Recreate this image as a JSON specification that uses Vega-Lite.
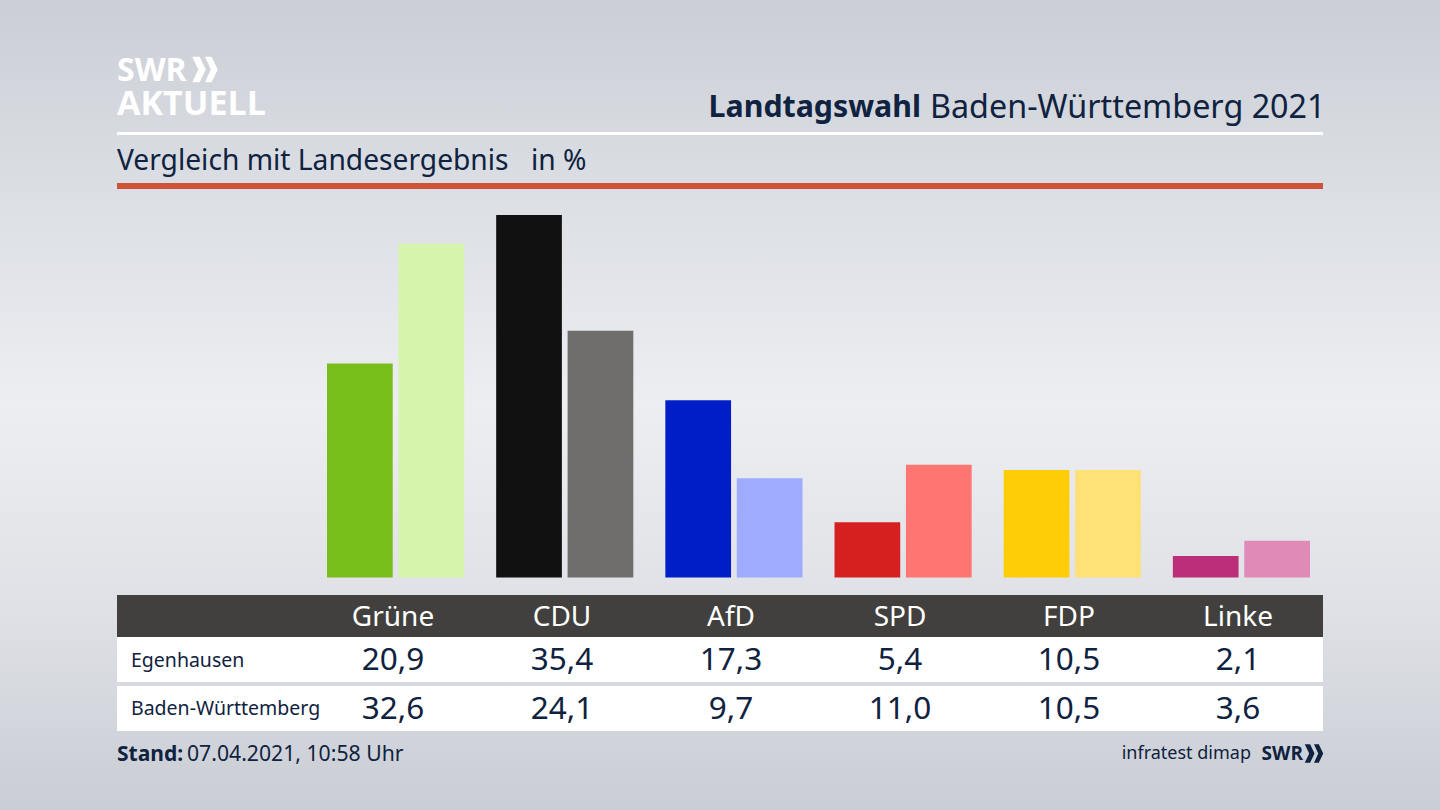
{
  "$schema": "https://vega.github.io/schema/vega-lite/v6.json",
  "autosize": {"type": "fit", "contains": "padding"},
  "width": 1440,
  "height": 810,
  "padding": 0,
  "background": "#d4d7dd",
  "view": {
    "stroke": null,
    "fill": {
      "gradient": "linear", "x1": 0, "y1": 0, "x2": 0, "y2": 1,
      "stops": [
        {"offset": 0, "color": "#cbced5"},
        {"offset": 0.25, "color": "#dcdfe4"},
        {"offset": 0.5, "color": "#eceef2"},
        {"offset": 0.75, "color": "#dfe1e6"},
        {"offset": 1, "color": "#c9cdd4"}
      ]
    }
  },
  "config": {
    "text": {"font": "Noto Sans", "color": "#0f2240", "dy": 2},
    "axis": {"disable": true}
  },
  "datasets": {
    "ergebnisse": [
      {"partei": "Grüne", "gebiet": "Egenhausen", "wert": 20.9, "text": "20,9", "farbe": "Grüne Egenhausen"},
      {"partei": "Grüne", "gebiet": "Baden-Württemberg", "wert": 32.6, "text": "32,6", "farbe": "Grüne Land"},
      {"partei": "CDU", "gebiet": "Egenhausen", "wert": 35.4, "text": "35,4", "farbe": "CDU Egenhausen"},
      {"partei": "CDU", "gebiet": "Baden-Württemberg", "wert": 24.1, "text": "24,1", "farbe": "CDU Land"},
      {"partei": "AfD", "gebiet": "Egenhausen", "wert": 17.3, "text": "17,3", "farbe": "AfD Egenhausen"},
      {"partei": "AfD", "gebiet": "Baden-Württemberg", "wert": 9.7, "text": "9,7", "farbe": "AfD Land"},
      {"partei": "SPD", "gebiet": "Egenhausen", "wert": 5.4, "text": "5,4", "farbe": "SPD Egenhausen"},
      {"partei": "SPD", "gebiet": "Baden-Württemberg", "wert": 11.0, "text": "11,0", "farbe": "SPD Land"},
      {"partei": "FDP", "gebiet": "Egenhausen", "wert": 10.5, "text": "10,5", "farbe": "FDP Egenhausen"},
      {"partei": "FDP", "gebiet": "Baden-Württemberg", "wert": 10.5, "text": "10,5", "farbe": "FDP Land"},
      {"partei": "Linke", "gebiet": "Egenhausen", "wert": 2.1, "text": "2,1", "farbe": "Linke Egenhausen"},
      {"partei": "Linke", "gebiet": "Baden-Württemberg", "wert": 3.6, "text": "3,6", "farbe": "Linke Land"}
    ],
    "parteien": [
      {"partei": "Grüne", "zeile": "kopf"},
      {"partei": "CDU", "zeile": "kopf"},
      {"partei": "AfD", "zeile": "kopf"},
      {"partei": "SPD", "zeile": "kopf"},
      {"partei": "FDP", "zeile": "kopf"},
      {"partei": "Linke", "zeile": "kopf"}
    ],
    "gebiete": [
      {"gebiet": "Egenhausen"}, {"gebiet": "Baden-Württemberg"}
    ]
  },
  "resolve": {"scale": {"x": "independent", "y": "independent", "color": "independent"}},
  "layer": [
    {
      "data": {"values": [{"zeile": "weiss"}]},
      "mark": {"type": "rect", "color": "#ffffff"},
      "encoding": {
        "x": {"datum": 0, "type": "quantitative", "scale": {"domain": [0, 1], "range": [117, 1323]}},
        "x2": {"datum": 1},
        "y": {"field": "zeile", "type": "nominal", "scale": {"type": "band", "domain": ["weiss"], "range": [132, 135], "padding": 0}}
      }
    },
    {
      "data": {"values": [{"zeile": "rot"}]},
      "mark": {"type": "rect", "color": "#cf5237"},
      "encoding": {
        "x": {"datum": 0, "type": "quantitative", "scale": {"domain": [0, 1], "range": [117, 1323]}},
        "x2": {"datum": 1},
        "y": {"field": "zeile", "type": "nominal", "scale": {"type": "band", "domain": ["rot"], "range": [183, 189], "padding": 0}}
      }
    },
    {
      "data": {"values": [{"text": "SWR", "zeile": "swr"}]},
      "mark": {"type": "text", "align": "left", "fontSize": 32, "fontWeight": "bold", "font": "Open Sans", "color": "#ffffff"},
      "encoding": {
        "x": {"datum": 0, "type": "quantitative", "scale": {"domain": [0, 1], "range": [117, 1323]}},
        "y": {"field": "zeile", "type": "nominal", "scale": {"type": "point", "padding": 0, "domain": ["swr", "aktuell"], "range": [69, 103]}},
        "text": {"field": "text"}
      }
    },
    {
      "data": {"values": [{"text": "AKTUELL", "zeile": "aktuell"}]},
      "mark": {"type": "text", "align": "left", "fontSize": 34, "fontWeight": "bold", "font": "Open Sans", "color": "#ffffff"},
      "encoding": {
        "x": {"datum": 0, "type": "quantitative", "scale": {"domain": [0, 1], "range": [117, 1323]}},
        "y": {"field": "zeile", "type": "nominal", "scale": {"type": "point", "padding": 0, "domain": ["swr", "aktuell"], "range": [69, 103]}},
        "text": {"field": "text"}
      }
    },
    {
      "data": {"values": [{"zeile": "swr"}]},
      "mark": {
        "type": "point", "filled": true, "opacity": 1, "color": "#ffffff", "size": 650,
        "shape": "M-1,-1L-0.42,-1L0.06,0L-0.42,1L-1,1L-0.52,0ZM0,-1L0.52,-1L1,0L0.52,1L0,1L0.46,0Z"
      },
      "encoding": {
        "x": {"datum": 0, "type": "quantitative", "scale": {"domain": [0, 1], "range": [205, 1323]}},
        "y": {"field": "zeile", "type": "nominal", "scale": {"type": "band", "domain": ["swr"], "range": [59, 80], "padding": 0}}
      }
    },
    {
      "data": {"values": [{"text": "Landtagswahl", "spalte": "fett", "zeile": "titel"}]},
      "mark": {"type": "text", "align": "right", "fontSize": 30.3, "fontWeight": "bold"},
      "encoding": {
        "x": {"field": "spalte", "type": "nominal", "scale": {"type": "point", "padding": 0, "domain": ["fett", "normal"], "range": [921, 930]}},
        "y": {"field": "zeile", "type": "nominal", "scale": {"type": "band", "domain": ["titel"], "range": [96, 116], "padding": 0}},
        "text": {"field": "text"}
      }
    },
    {
      "data": {"values": [{"text": "Baden-Württemberg 2021", "spalte": "normal", "zeile": "titel"}]},
      "mark": {"type": "text", "align": "left", "fontSize": 32.3},
      "encoding": {
        "x": {"field": "spalte", "type": "nominal", "scale": {"type": "point", "padding": 0, "domain": ["fett", "normal"], "range": [921, 930]}},
        "y": {"field": "zeile", "type": "nominal", "scale": {"type": "band", "domain": ["titel"], "range": [96, 116], "padding": 0}},
        "text": {"field": "text"}
      }
    },
    {
      "data": {"values": [
        {"text": "Vergleich mit Landesergebnis", "spalte": "thema", "zeile": "unter"},
        {"text": "in %", "spalte": "einheit", "zeile": "unter"}
      ]},
      "mark": {"type": "text", "align": "left", "fontSize": 28.2},
      "encoding": {
        "x": {"field": "spalte", "type": "nominal", "scale": {"type": "point", "padding": 0, "domain": ["thema", "einheit"], "range": [117, 531]}},
        "y": {"field": "zeile", "type": "nominal", "scale": {"type": "band", "domain": ["unter"], "range": [150, 170], "padding": 0}},
        "text": {"field": "text"}
      }
    },
    {
      "data": {"name": "ergebnisse"},
      "mark": {"type": "bar", "cornerRadius": 0},
      "encoding": {
        "x": {"field": "partei", "type": "nominal", "sort": null, "scale": {"type": "band", "domain": ["Grüne", "CDU", "AfD", "SPD", "FDP", "Linke"], "range": [327, 1310], "paddingInner": 0.1893, "paddingOuter": 0}},
        "xOffset": {"field": "gebiet", "type": "nominal", "sort": null, "scale": {"domain": ["Egenhausen", "Baden-Württemberg"], "paddingInner": 0.08, "paddingOuter": 0}},
        "y": {"field": "wert", "type": "quantitative", "scale": {"domain": [0, 35.4], "range": [577.5, 215], "nice": false}},
        "color": {
          "field": "farbe", "type": "nominal", "legend": null,
          "scale": {
            "domain": ["Grüne Egenhausen", "Grüne Land", "CDU Egenhausen", "CDU Land", "AfD Egenhausen", "AfD Land", "SPD Egenhausen", "SPD Land", "FDP Egenhausen", "FDP Land", "Linke Egenhausen", "Linke Land"],
            "range": ["#78be1a", "#d6f5aa", "#111111", "#6f6e6c", "#001ec8", "#9dacff", "#d61f1f", "#ff7571", "#ffcc08", "#ffe176", "#bc2e78", "#df8ab7"]
          }
        }
      }
    },
    {
      "data": {"values": [{"zeile": "kopf"}]},
      "mark": {"type": "rect", "color": "#41403e"},
      "encoding": {
        "x": {"datum": 0, "type": "quantitative", "scale": {"domain": [0, 1], "range": [117, 1323]}},
        "x2": {"datum": 1},
        "y": {"field": "zeile", "type": "nominal", "scale": {"type": "band", "domain": ["kopf"], "range": [595, 637], "padding": 0}}
      }
    },
    {
      "data": {"name": "gebiete"},
      "mark": {"type": "rect", "color": "#ffffff"},
      "encoding": {
        "x": {"datum": 0, "type": "quantitative", "scale": {"domain": [0, 1], "range": [117, 1323]}},
        "x2": {"datum": 1},
        "y": {"field": "gebiet", "type": "nominal", "scale": {"type": "band", "domain": ["Egenhausen", "Baden-Württemberg"], "range": [637, 731], "paddingInner": 0.0816, "paddingOuter": 0}}
      }
    },
    {
      "data": {"name": "parteien"},
      "mark": {"type": "text", "fontSize": 28, "color": "#ffffff"},
      "encoding": {
        "x": {"field": "partei", "type": "nominal", "scale": {"type": "band", "domain": ["Grüne", "CDU", "AfD", "SPD", "FDP", "Linke"], "range": [308.5, 1322.5], "padding": 0}},
        "y": {"field": "zeile", "type": "nominal", "scale": {"type": "band", "domain": ["kopf"], "range": [595, 637], "padding": 0}},
        "text": {"field": "partei"}
      }
    },
    {
      "data": {"name": "gebiete"},
      "mark": {"type": "text", "align": "left", "fontSize": 19.5, "dy": 1},
      "encoding": {
        "x": {"datum": 0, "type": "quantitative", "scale": {"domain": [0, 1], "range": [131, 1323]}},
        "y": {"field": "gebiet", "type": "nominal", "scale": {"type": "band", "domain": ["Egenhausen", "Baden-Württemberg"], "range": [637, 731], "paddingInner": 0.0816, "paddingOuter": 0}},
        "text": {"field": "gebiet"}
      }
    },
    {
      "data": {"name": "ergebnisse"},
      "mark": {"type": "text", "fontSize": 31.5, "dy": 1.5},
      "encoding": {
        "x": {"field": "partei", "type": "nominal", "scale": {"type": "band", "domain": ["Grüne", "CDU", "AfD", "SPD", "FDP", "Linke"], "range": [308.5, 1322.5], "padding": 0}},
        "y": {"field": "gebiet", "type": "nominal", "scale": {"type": "band", "domain": ["Egenhausen", "Baden-Württemberg"], "range": [637, 731], "paddingInner": 0.0816, "paddingOuter": 0}},
        "text": {"field": "text"}
      }
    },
    {
      "data": {"values": [{"text": "Stand:", "spalte": "stand", "zeile": "fuss"}]},
      "mark": {"type": "text", "align": "left", "fontSize": 21, "fontWeight": "bold"},
      "encoding": {
        "x": {"field": "spalte", "type": "nominal", "scale": {"type": "point", "padding": 0, "domain": ["stand", "zeit"], "range": [117, 187]}},
        "y": {"field": "zeile", "type": "nominal", "scale": {"type": "band", "domain": ["fuss"], "range": [743, 763], "padding": 0}},
        "text": {"field": "text"}
      }
    },
    {
      "data": {"values": [{"text": "07.04.2021, 10:58 Uhr", "spalte": "zeit", "zeile": "fuss"}]},
      "mark": {"type": "text", "align": "left", "fontSize": 21.2},
      "encoding": {
        "x": {"field": "spalte", "type": "nominal", "scale": {"type": "point", "padding": 0, "domain": ["stand", "zeit"], "range": [117, 187]}},
        "y": {"field": "zeile", "type": "nominal", "scale": {"type": "band", "domain": ["fuss"], "range": [743, 763], "padding": 0}},
        "text": {"field": "text"}
      }
    },
    {
      "data": {"values": [{"text": "infratest dimap", "spalte": "institut", "zeile": "fuss"}]},
      "mark": {"type": "text", "align": "right", "fontSize": 18},
      "encoding": {
        "x": {"field": "spalte", "type": "nominal", "scale": {"type": "point", "padding": 0, "domain": ["institut", "sender"], "range": [1251, 1303]}},
        "y": {"field": "zeile", "type": "nominal", "scale": {"type": "band", "domain": ["fuss"], "range": [742, 762], "padding": 0}},
        "text": {"field": "text"}
      }
    },
    {
      "data": {"values": [{"text": "SWR", "spalte": "sender", "zeile": "fuss"}]},
      "mark": {"type": "text", "align": "right", "fontSize": 19, "fontWeight": "bold", "font": "Open Sans"},
      "encoding": {
        "x": {"field": "spalte", "type": "nominal", "scale": {"type": "point", "padding": 0, "domain": ["institut", "sender"], "range": [1251, 1303]}},
        "y": {"field": "zeile", "type": "nominal", "scale": {"type": "band", "domain": ["fuss"], "range": [742, 762], "padding": 0}},
        "text": {"field": "text"}
      }
    },
    {
      "data": {"values": [{"zeile": "fuss"}]},
      "mark": {
        "type": "point", "filled": true, "opacity": 1, "color": "#0f2240", "size": 340,
        "shape": "M-1,-1L-0.42,-1L0.06,0L-0.42,1L-1,1L-0.52,0ZM0,-1L0.52,-1L1,0L0.52,1L0,1L0.46,0Z"
      },
      "encoding": {
        "x": {"datum": 0, "type": "quantitative", "scale": {"domain": [0, 1], "range": [1314, 1400]}},
        "y": {"field": "zeile", "type": "nominal", "scale": {"type": "band", "domain": ["fuss"], "range": [743, 764], "padding": 0}}
      }
    }
  ]
}
